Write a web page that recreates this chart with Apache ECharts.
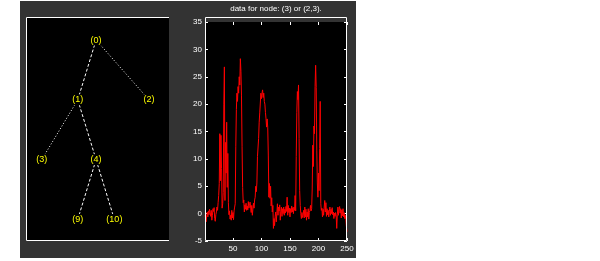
<!DOCTYPE html>
<html>
<head>
<meta charset="utf-8">
<script src="https://cdn.jsdelivr.net/npm/echarts@6/dist/echarts.min.js"></script>
<style>html,body{margin:0;padding:0;background:#fff;}#c{width:600px;height:261px;}</style>
</head>
<body>
<div id="c"></div>
<script>
// ---- data ----
var titleText = 'data for node: (3) or (2,3).';
var xTicks = [50, 100, 150, 200, 250];
var yTicks = [-5, 0, 5, 10, 15, 20, 25, 30, 35];
var signal = [
 -0.3, -0.8, -1.5, -0.4, 0.3, -0.6, 0.5, -0.2, 0.8, 0.2,
 -0.5, 0.6, -1.2, -0.3, 0.9, 0.4, 1.1, -0.9, -1.4, -0.2,
 0.3, 1.2, 0.6, 2.0, 3.3, 5.5, 14.6, 6.0, 14.3, 8.2,
 1.0, 1.8, 3.9, 20.0, 26.8, 2.4, 13.0, 7.4, 16.7, 4.8,
 11.0, 2.0, -0.2, 0.5, -1.0, -0.3, -1.2, 0.6, -0.8, 0.2,
 -1.1, 0.5, 1.2, 1.8, 12.2, 19.0, 22.0, 20.5, 23.2, 22.0,
 25.0, 23.5, 28.3, 26.0, 21.5, 12.2, 4.8, 2.0, 2.5, 0.3,
 1.6, 0.8, 1.9, 0.6, 1.4, 0.7, 2.2, 1.0, 1.5, 2.1,
 1.8, 0.2, 1.5, -0.3, 0.8, 1.9, 1.0, 2.5, 3.0, 5.0,
 4.0, 5.6, 10.4, 10.7, 13.7, 16.7, 18.4, 20.2, 22.0, 21.0,
 22.0, 22.6, 21.2, 22.0, 20.5, 20.0, 18.5, 17.3, 15.8, 17.3,
 15.8, 10.7, 3.0, 5.5, 2.8, 5.0, 1.4, 2.9, 0.3, 1.5,
 -2.7, -0.9, -2.2, -0.5, 0.3, -1.5, 0.0, 1.8, -0.3, 1.2,
 0.5, 1.6, -1.2, 0.4, 1.2, -0.5, 0.9, 0.0, 1.2, -0.3,
 0.8, 0.1, 1.3, 0.4, 3.0, -0.3, 1.5, 0.2, 1.0, -0.6,
 0.9, 0.2, 1.4, 0.3, 1.1, 0.0, 1.2, 0.6, 3.3, 0.5,
 10.4, 18.5, 22.3, 20.8, 23.5, 13.7, 4.2, 1.5, 0.0, -0.9,
 0.2, -0.7, -0.3, 0.6, -0.8, 1.2, -0.6, 0.8, -1.2, 0.3,
 -0.6, 0.9, -1.0, 0.2, 0.6, 1.5, 0.5, 0.9, 4.5, 12.5,
 8.6, 16.0, 14.6, 23.2, 27.1, 23.0, 11.6, 5.6, 3.0, 7.4,
 4.2, 11.9, 20.5, 1.8, 0.6, 1.0, -0.6, 0.8, -0.3, 1.2,
 2.4, 0.3, 2.0, -0.5, 0.9, -0.2, 0.6, -0.6, 0.4, 1.2,
 -0.3, 0.8, 0.0, 1.1, -0.2, 0.3, -0.9, 0.1, -0.5, 0.2,
 -0.4, -2.7, -0.2, 1.2, -0.3, 0.8, 1.3, 0.1, 0.9, -0.8,
 0.7, -0.4, 0.9, -0.6, 0.2, -0.9, -0.3, -1.1, -2.4, -3.3
];
var treeNames = ['(0)', '(1)', '(2)', '(3)', '(4)', '(9)', '(10)'];
var treePos = [0.49, 0.362, 0.86, 0.11, 0.49, 0.362, 0.618];
var treeDepth = [0, 1, 1, 2, 2, 3, 3];
var treeEdges = [[0, 1], [0, 2], [1, 3], [1, 4], [4, 5], [4, 6]];
var edgeKinds = ['dashed', 'dotted', 'dotted', 'dashed', 'dashed', 'dashed'];

// ---- build ----
var lineData = signal.map(function (v, i) { return [i + 1, v]; });
var nodes = treeNames.map(function (n, i) { return { name: n, value: [treePos[i], treeDepth[i]] }; });
var links = treeEdges.map(function (e, i) {
  return { source: e[0], target: e[1], lineStyle: { type: edgeKinds[i] === 'dashed' ? [3, 2] : [1, 2] } };
});
var FONT = 'Liberation Sans';
var tickLbl = { color: '#fff', fontSize: 8, fontFamily: FONT };
function noLine() { return { show: false, onZero: false }; }

var chart = echarts.init(document.getElementById('c'), null, { renderer: 'canvas' });
chart.setOption({
  animation: false,
  backgroundColor: '#fff',
  graphic: [
    { type: 'rect', z: -100, silent: true, shape: { x: 20, y: 1, width: 336, height: 257 }, style: { fill: '#333333' } },
    { type: 'rect', z: 50, silent: true, shape: { x: 205.5, y: 17.5, width: 141, height: 223 }, style: { fill: 'none', stroke: '#fff', lineWidth: 1 } },
    { type: 'polyline', z: 50, silent: true, shape: { points: [[169, 17.5], [26.5, 17.5], [26.5, 240.5], [169, 240.5]] }, style: { fill: 'none', stroke: '#fff', lineWidth: 1 } }
  ],
  grid: [
    { left: 205, top: 17, width: 142, height: 224, show: true, backgroundColor: '#000', borderColor: 'transparent', borderWidth: 0 },
    { left: 26, top: 17, width: 143, height: 224, show: true, backgroundColor: '#000', borderColor: 'transparent', borderWidth: 0 }
  ],
  xAxis: [
    { gridIndex: 0, type: 'value', min: 1, max: 250, position: 'bottom',
      axisLine: noLine(), splitLine: { show: false },
      axisTick: { show: true, inside: true, length: 3, lineStyle: { color: '#fff' }, customValues: xTicks },
      axisLabel: Object.assign({ margin: 4, customValues: xTicks }, tickLbl) },
    { gridIndex: 0, type: 'value', min: 1, max: 250, position: 'top',
      axisLine: noLine(), splitLine: { show: false },
      axisTick: { show: true, inside: true, length: 3, lineStyle: { color: '#fff' }, customValues: xTicks },
      axisLabel: { show: false },
      name: titleText, nameLocation: 'middle', nameGap: 9,
      nameTextStyle: { color: '#fff', fontSize: 8, fontFamily: FONT } },
    { gridIndex: 1, type: 'value', min: 0, max: 1, show: false }
  ],
  yAxis: [
    { gridIndex: 0, type: 'value', min: -5, max: 35, interval: 5, position: 'left',
      axisLine: noLine(), splitLine: { show: false },
      axisTick: { show: true, inside: true, length: 3, lineStyle: { color: '#fff' } },
      axisLabel: Object.assign({ margin: 3, showMinLabel: true, showMaxLabel: true }, tickLbl) },
    { gridIndex: 0, type: 'value', min: -5, max: 35, interval: 5, position: 'right',
      axisLine: noLine(), splitLine: { show: false },
      axisTick: { show: true, inside: true, length: 3, lineStyle: { color: '#fff' } },
      axisLabel: { show: false } },
    { gridIndex: 1, type: 'value', min: -0.385, max: 3.361, inverse: true, show: false }
  ],
  series: [
    { type: 'line', xAxisIndex: 0, yAxisIndex: 0, data: lineData, symbol: 'none',
      lineStyle: { color: '#ff0000', width: 1 }, itemStyle: { color: '#ff0000' } },
    { type: 'graph', coordinateSystem: 'cartesian2d', xAxisIndex: 2, yAxisIndex: 2,
      data: nodes, links: links, symbol: 'circle', symbolSize: 1,
      itemStyle: { color: '#000' },
      lineStyle: { color: '#fff', width: 1, opacity: 1 },
      label: { show: true, position: 'inside', formatter: '{b}', color: '#ffff00', fontSize: 9,
               fontFamily: FONT, backgroundColor: '#000', padding: [1, 0] },
      emphasis: { disabled: true } }
  ]
});
</script>
</body>
</html>
